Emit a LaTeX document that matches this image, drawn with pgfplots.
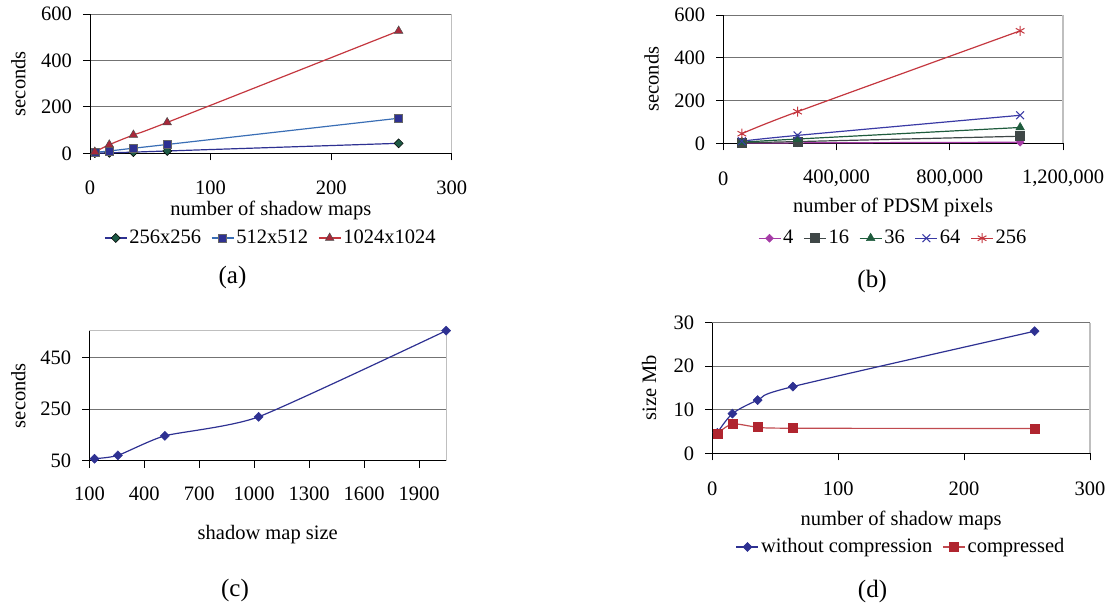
\documentclass[border=0pt]{standalone}
\usepackage{fontspec}
\setmainfont{Liberation Serif}
\usepackage{pgfplots}
\pgfplotsset{compat=1.18}

\definecolor{navy}{HTML}{2E3192}
\definecolor{steel}{HTML}{3A6EB5}
\definecolor{redline}{HTML}{C4373F}
\definecolor{redmark}{HTML}{A8283A}
\definecolor{dgreen}{HTML}{1D5A45}
\definecolor{magen}{HTML}{A53BA6}
\definecolor{dgray}{HTML}{3F4747}
\definecolor{green36}{HTML}{1F5C3D}
\definecolor{blue64}{HTML}{3A3AA5}
\definecolor{comprline}{HTML}{C04A4F}
\definecolor{comprmark}{HTML}{B0252F}

\pgfplotsset{
  panel/.style={
    scale only axis,
    clip=false,
    axis lines=left,
    axis line style={-, black, line width=0.9pt},
    tick align=outside,
    major tick length=7pt,
    tick style={black, line width=0.9pt},
    ymajorgrids,
    grid style={black!55, line width=0.9pt},
    /pgf/number format/assume math mode=true,
    /pgf/number format/1000 sep={},
    xticklabel style={anchor=center, inner sep=0pt},
    yticklabel style={anchor=east, inner sep=0pt, xshift=-11pt},
    ylabel style={anchor=center},
    xlabel style={anchor=center},
    legend style={draw=none, fill=none, legend columns=-1, anchor=center,
      /tikz/every even column/.append style={column sep=8pt}},
    legend image code/.code={\draw[mark repeat=2,mark phase=2]
      plot coordinates {(0pt,0pt) (11pt,0pt) (22pt,0pt)};},
    every axis plot/.append style={line width=1.2pt},
  },
  dia/.style 2 args={mark=square*, mark size=3.2pt,
    mark options={solid, rotate=45, fill=#1, draw=#2, line width=0.5pt}},
}

\begin{document}
\fontsize{20.5}{24}\selectfont
\begin{tikzpicture}[font=\fontsize{20.5}{24}\selectfont]

% (a)
\begin{axis}[panel,
  at={(90pt,449.7pt)}, anchor=south west,
  width=361.7pt, height=139.3pt,
  xmin=0, xmax=300, ymin=0, ymax=600,
  xtick={0,100,200,300}, ytick={0,200,400,600},
  xticklabel style={yshift=-27pt},
  xlabel={number of shadow maps},
  xlabel style={at={(axis description cs:0.5,-0.407)}},
  ylabel={seconds},
  ylabel style={at={(axis description cs:-0.198,0.5)}},
  legend style={at={(0.5,-0.608)}},
]
\addplot[navy, smooth, dia={dgreen}{black}]
  coordinates {(4,1) (16,2) (36,5) (64,10) (256,43)};
\addlegendentry{256x256}
\addplot[steel, smooth, mark=square*, mark size=4pt,
  mark options={solid, fill=navy, draw=black!60, line width=0.5pt}]
  coordinates {(4,4) (16,10) (36,22) (64,38) (256,151)};
\addlegendentry{512x512}
\addplot[redline, smooth, mark=triangle*, mark size=5pt,
  mark options={solid, fill=redmark, draw=black!70, line width=0.5pt}]
  coordinates {(4,6) (16,37) (36,79) (64,133) (256,527)};
\addlegendentry{1024x1024}
\draw[black!25, line width=1.2pt] (rel axis cs:1,1) -- (rel axis cs:1,0);
\end{axis}

% (b)
\begin{axis}[panel,
  at={(723.3pt,459.7pt)}, anchor=south west,
  width=339.7pt, height=128.3pt,
  xmin=0, xmax=1200000, ymin=0, ymax=600,
  xtick={0,400000,800000,1200000},
  xticklabels={0,{400,000},{800,000},{1,200,000}},
  scaled x ticks=false,
  ytick={0,200,400,600},
  xticklabel style={yshift=-28pt},
  xlabel={number of PDSM pixels},
  xlabel style={at={(axis description cs:0.5,-0.499)}},
  ylabel={seconds},
  ylabel style={at={(axis description cs:-0.211,0.5)}},
  legend style={at={(0.5,-0.740)}},
]
\addplot[magen, smooth, dia={magen}{magen}, mark size=2.8pt]
  coordinates {(65536,1) (262144,2) (1048576,5)};
\addlegendentry{4}
\addplot[dgray, smooth, mark=square*, mark size=4.5pt,
  mark options={solid, fill=dgray, line width=0.5pt}]
  coordinates {(65536,3) (262144,8) (1048576,33)};
\addlegendentry{16}
\addplot[green36, smooth, mark=triangle*, mark size=5pt,
  mark options={solid, fill=green36, line width=0.5pt}]
  coordinates {(65536,5) (262144,20) (1048576,74)};
\addlegendentry{36}
\addplot[blue64, smooth, mark=x, mark size=5.5pt,
  mark options={solid, line width=1pt}]
  coordinates {(65536,10) (262144,37) (1048576,131)};
\addlegendentry{64}
\addplot[redline, smooth, mark=asterisk, mark size=5pt,
  mark options={solid, line width=1pt}]
  coordinates {(65536,45) (262144,148) (1048576,526)};
\addlegendentry{256}
\draw[black!25, line width=1.2pt] (rel axis cs:1,1) -- (rel axis cs:1,0);
\end{axis}

% (c)
\begin{axis}[panel,
  at={(89.4pt,142.5pt)}, anchor=south west,
  width=356.7pt, height=129.8pt,
  xmin=100, xmax=2048, ymin=50, ymax=555,
  xtick={100,400,...,1900}, ytick={50,250,450},
  xticklabel style={yshift=-26pt},
  xlabel={shadow map size},
  xlabel style={at={(axis description cs:0.5,-0.574)}},
  ylabel={seconds},
  ylabel style={at={(axis description cs:-0.199,0.5)}},
]
\addplot[navy, smooth, tension=0.35, dia={navy}{navy}]
  coordinates {(128,57) (256,70) (512,146) (1024,220) (2048,555)};
\draw[black!25, line width=1.2pt] (rel axis cs:0,1) -- (rel axis cs:1,1) -- (rel axis cs:1,0);
\end{axis}

% (d)
\begin{axis}[panel,
  at={(712.3pt,149.7pt)}, anchor=south west,
  width=377.7pt, height=130.8pt,
  xmin=0, xmax=300, ymin=0, ymax=30,
  xtick={0,100,200,300}, ytick={0,10,20,30},
  xticklabel style={yshift=-28pt},
  xlabel={number of shadow maps},
  xlabel style={at={(axis description cs:0.5,-0.510)}},
  ylabel={size Mb},
  ylabel style={at={(axis description cs:-0.167,0.5)}},
  legend style={at={(0.5,-0.716)}},
]
\addplot[navy, smooth, dia={navy}{navy}]
  coordinates {(4,4.7) (16,9.1) (36,12.2) (64,15.3) (256,28)};
\addlegendentry{without compression}
\addplot[comprline, smooth, mark=square*, mark size=4.5pt,
  mark options={solid, fill=comprmark, draw=comprmark, line width=0.5pt}]
  coordinates {(4,4.5) (16,6.7) (36,6.0) (64,5.75) (256,5.7)};
\addlegendentry{compressed}
\draw[black!25, line width=1.2pt] (rel axis cs:1,1) -- (rel axis cs:1,0);
\end{axis}

\node[font=\fontsize{25}{30}\selectfont] at (232.5pt,326pt) {(a)};
\node[font=\fontsize{25}{30}\selectfont] at (872pt,321.3pt) {(b)};
\node[font=\fontsize{25}{30}\selectfont] at (235pt,13pt) {(c)};
\node[font=\fontsize{25}{30}\selectfont] at (872.5pt,11.3pt) {(d)};

\pgfresetboundingbox
\path (0,0) rectangle (1110pt,603pt);
\end{tikzpicture}
\end{document}
